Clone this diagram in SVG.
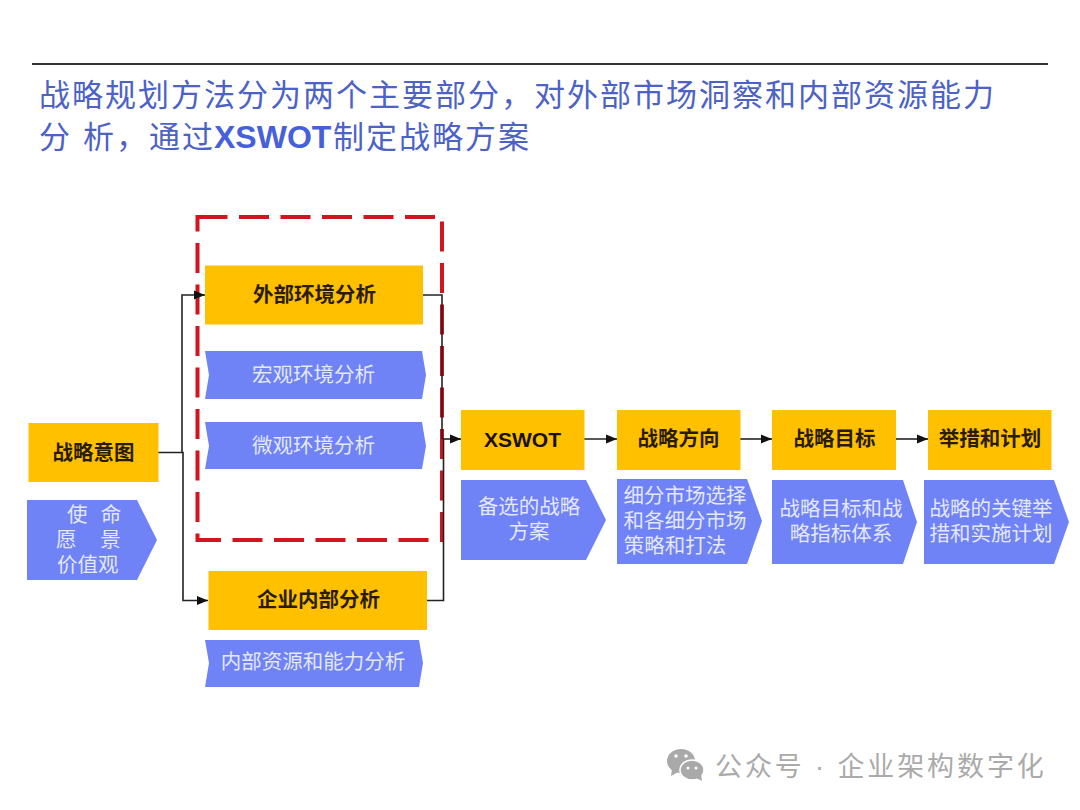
<svg xmlns="http://www.w3.org/2000/svg" width="1080" height="810" viewBox="0 0 1080 810">
<defs>
<marker id="ah" markerUnits="userSpaceOnUse" markerWidth="12" markerHeight="12" refX="11" refY="6" orient="auto"><path d="M0,1.500 L11,6 L0,10.500 Z" fill="#111"/></marker>
</defs>
<style>
text{font-family:"Liberation Sans","Noto Sans CJK SC",sans-serif}
.y{fill:#ffc000}
.b{fill:#6f82f6}
.yt{font-size:20.500px;font-weight:700;fill:#2a1c00;text-anchor:middle}
.bt{font-size:20.500px;fill:#e4e8fb;text-anchor:middle}
.st{text-anchor:start}
.ti{font-size:31px;fill:#4c62c6;letter-spacing:2px}
.c{fill:none;stroke:#222;stroke-width:1.600}
.a{marker-end:url(#ah)}
</style>
<rect width="1080" height="810" fill="#fff"/>
<line x1="32" y1="64" x2="1048" y2="64" stroke="#333" stroke-width="1.800"/>
<text class="ti" x="39" y="106" letter-spacing="2.100">战略规划方法分为两个主要部分，对外部市场洞察和内部资源能力</text>
<text class="ti" x="39" y="148"><tspan>分</tspan><tspan x="83">析，通过</tspan><tspan x="214" font-size="32" font-weight="700" fill="#4660dc" letter-spacing="0">XSWOT</tspan><tspan x="333">制定战略方案</tspan></text>

<rect x="197.500" y="217" width="244.500" height="323" fill="none" stroke="#d2141e" stroke-width="4" stroke-dasharray="30 11.500"/>

<g id="connectors">
<path class="c a" d="M158,452.500 H182 V295 H205"/>
<path class="c a" d="M182,452.500 H183 V600.500 H208"/>
<path class="c" d="M423,295 H442 V439"/>
<path class="c" d="M427,600.500 H443.500 V439"/>
<path class="c a" d="M442,439 H461"/>
<path class="c a" d="M584,439 H617"/>
<path class="c a" d="M740,439 H772"/>
<path class="c a" d="M896,439 H928"/>
</g>

<g id="n-intent"><rect class="y" x="28.500" y="423" width="130" height="59"/><text class="yt" x="93.500" y="460">战略意图</text></g>
<g id="n-mission"><polygon class="b" points="27,500 137,500 157,540 137,580 27,580"/>
<text class="bt st" x="67" y="522" word-spacing="7.500">使 命</text>
<text class="bt st" x="56" y="547" word-spacing="18">愿 景</text>
<text class="bt st" x="57" y="572">价值观</text></g>
<g id="n-external"><rect class="y" x="205" y="265.500" width="218" height="59"/><text class="yt" x="314.500" y="302">外部环境分析</text></g>
<g id="n-macro"><polygon class="b" points="205,351 422,351 426,375 422,399 205,399 209,375"/><text class="bt" x="313.500" y="382">宏观环境分析</text></g>
<g id="n-micro"><polygon class="b" points="205,422 422,422 426,446 422,469 205,469 209,446"/><text class="bt" x="313.500" y="453">微观环境分析</text></g>
<g id="n-internal"><rect class="y" x="208.500" y="571" width="218.500" height="59"/><text class="yt" x="318.500" y="607">企业内部分析</text></g>
<g id="n-resource"><polygon class="b" points="205,640 419,640 423,663 419,687 205,687 209,663"/><text class="bt" x="313" y="669">内部资源和能力分析</text></g>

<g id="n-xswot"><rect class="y" x="461" y="410" width="123.500" height="60"/><text x="522.500" y="447" text-anchor="middle" font-size="21" font-weight="700" fill="#1a1200">XSWOT</text></g>
<g id="n-direction"><rect class="y" x="617" y="410" width="123.500" height="60"/><text class="yt" x="678.500" y="446">战略方向</text></g>
<g id="n-goal"><rect class="y" x="772" y="410" width="124" height="60"/><text class="yt" x="834.500" y="446">战略目标</text></g>
<g id="n-plan"><rect class="y" x="928" y="410" width="123.500" height="60"/><text class="yt" x="990" y="446">举措和计划</text></g>

<g id="n-xswot-d"><polygon class="b" points="461,480 586,480 606,520 586,560 461,560"/><text class="bt" x="529" y="514">备选的战略</text><text class="bt" x="529" y="539">方案</text></g>
<g id="n-direction-d"><polygon class="b" points="617,479 747,479 762,521 747,564 617,564"/><text class="bt" x="685" y="503">细分市场选择</text><text class="bt" x="685" y="528">和各细分市场</text><text class="bt" x="675" y="553">策略和打法</text></g>
<g id="n-goal-d"><polygon class="b" points="772,480 903,480 917,522 903,564 772,564"/><text class="bt" x="841" y="516">战略目标和战</text><text class="bt" x="841" y="541">略指标体系</text></g>
<g id="n-plan-d"><polygon class="b" points="924,480 1054,480 1069,522 1054,564 924,564"/><text class="bt" x="991" y="516">战略的关键举</text><text class="bt" x="991" y="541">措和实施计划</text></g>

<g id="watermark">
<ellipse cx="681" cy="761" rx="14" ry="12" fill="#a9a9a9"/><path d="M672,769 L671,776 L680,771 Z" fill="#a9a9a9"/>
<ellipse cx="692" cy="770" rx="12" ry="10" fill="#a9a9a9" stroke="#fff" stroke-width="1.500"/><path d="M696,778 L702,781 L701,774 Z" fill="#a9a9a9"/>
<circle cx="676" cy="756" r="1.800" fill="#fff"/><circle cx="686" cy="756" r="1.800" fill="#fff"/>
<circle cx="688" cy="768" r="1.500" fill="#fff"/><circle cx="696" cy="768" r="1.500" fill="#fff"/>
<text x="715" y="776" font-size="27" fill="#aaaaaa" letter-spacing="2.900">公众号 · 企业架构数字化</text>
</g>
</svg>
